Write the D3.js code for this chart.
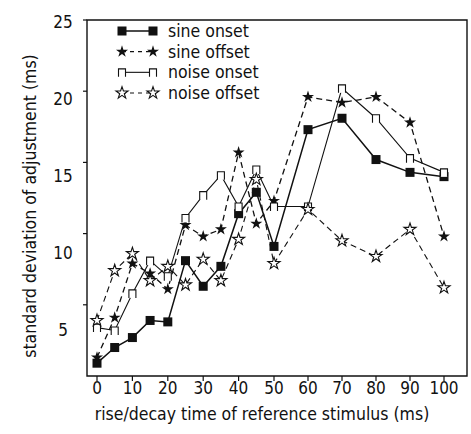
<!DOCTYPE html>
<html>
<head>
<meta charset="utf-8">
<script src="https://cdn.jsdelivr.net/npm/d3@7"></script>
<style>
  body { margin: 0; background: #fff; }
  svg { display: block; font-family: "DejaVu Sans Condensed", "Liberation Sans Narrow", sans-serif; }
</style>
</head>
<body>
<script>
// rise/decay time of reference stimulus (ms)
const riseTimes = [0, 5, 10, 15, 20, 25, 30, 35, 40, 45, 50, 60, 70, 80, 90, 100];
const sineOnset   = [0.9, 2.0, 2.7, 3.9, 3.8, 8.1, 6.3, 7.7, 11.4, 12.9, 9.1, 17.3, 18.1, 15.2, 14.3, 14.0];
const sineOffset  = [1.3, 4.1, 7.9, 7.2, 6.1, 10.6, 9.8, 10.3, 15.7, 10.7, 12.3, 19.6, 19.2, 19.6, 17.8, 9.8];
const noiseOnset  = [3.4, 3.2, 5.8, 8.1, 7.0, 11.1, 12.7, 14.1, 11.9, 14.5, 11.9, 11.9, 20.2, 18.1, 15.3, 14.3];
const noiseOffset = [3.9, 7.4, 8.6, 6.7, 7.7, 6.4, 8.2, 6.7, 9.6, 13.8, 7.9, 11.7, 9.5, 8.4, 10.3, 6.2];
const xTicks = [0, 10, 20, 30, 40, 50, 60, 70, 80, 90, 100];
const yTicks = [5, 10, 15, 20, 25];
const seriesNames = ['sine onset', 'sine offset', 'noise onset', 'noise offset'];

const W = 471, H = 434;
const svg = d3.select('body').append('svg').attr('width', W).attr('height', H);

const x = d3.scaleLinear().domain([0, 50, 100]).range([97, 274, 444]);
const y = d3.scaleLinear().domain([0, 25]).range([376, 20]);
// printed labels sit a little below their tick marks in the original
const yLab = d3.scaleLinear().domain([5, 25]).range([330, 22]);

const plotL = 87, plotR = 467, plotT = 20, plotB = 376;

// frame
svg.append('path')
   .attr('d', `M${plotL},${plotT}H${plotR}V${plotB}H${plotL}Z`)
   .attr('fill', 'none').attr('stroke', '#111').attr('stroke-width', 1.4);

// y ticks + labels
svg.selectAll('.ytick').data(yTicks).enter().append('line')
   .attr('x1', plotL - 4).attr('x2', plotL)
   .attr('y1', d => y(d)).attr('y2', d => y(d))
   .attr('stroke', '#111').attr('stroke-width', 1.2);
svg.selectAll('.ylab').data(yTicks).enter().append('text')
   .attr('x', 63).attr('y', d => yLab(d)).attr('dy', '0.35em')
   .attr('text-anchor', 'middle').attr('font-size', 17).attr('fill', '#111')
   .text(d => d);

// x ticks + labels
svg.selectAll('.xtick').data(xTicks).enter().append('line')
   .attr('x1', d => x(d)).attr('x2', d => x(d))
   .attr('y1', plotB).attr('y2', plotB + 5)
   .attr('stroke', '#111').attr('stroke-width', 1.2);
svg.selectAll('.xlab').data(xTicks).enter().append('text')
   .attr('x', d => x(d)).attr('y', 388).attr('dy', '0.35em')
   .attr('text-anchor', 'middle').attr('font-size', 17).attr('fill', '#111')
   .text(d => d);

// axis titles
svg.append('text')
   .attr('x', 262).attr('y', 414).attr('dy', '0.35em')
   .attr('text-anchor', 'middle').attr('font-size', 17.5).attr('fill', '#111')
   .text('rise/decay time of reference stimulus (ms)');
svg.append('text')
   .attr('transform', 'translate(30,206) rotate(-90)').attr('dy', '0.35em')
   .attr('text-anchor', 'middle').attr('font-size', 17.5).attr('fill', '#111')
   .text('standard deviation of adjustment (ms)');

// markers
const star = d3.symbol().type(d3.symbolStar).size(45);
function drawMarker(g, kind) {
  if (kind === 0) {
    g.append('rect').attr('x', -4.5).attr('y', -4.5).attr('width', 9).attr('height', 9).attr('fill', '#111');
  } else if (kind === 1) {
    g.append('path').attr('d', star()).attr('fill', '#111');
  } else if (kind === 2) {
    g.append('path').attr('d', 'M-3.5,4.5V-3.5H3.5V4.5').attr('fill', '#fff')
     .attr('stroke', '#111').attr('stroke-width', 1.1);
  } else {
    g.append('path').attr('d', star()).attr('fill', '#fff')
     .attr('stroke', '#111').attr('stroke-width', 1.1);
  }
}

const series = [sineOnset, sineOffset, noiseOnset, noiseOffset];
const dashes = [null, '6,4', null, '6,4'];
const widths = [1.5, 1.3, 1.1, 1.1];
const line = d3.line().x(d => x(d[0])).y(d => y(d[1]));

series.forEach((vals, k) => {
  const pts = riseTimes.map((t, i) => [t, vals[i]]);
  svg.append('path').datum(pts)
     .attr('d', line).attr('fill', 'none').attr('stroke', '#111')
     .attr('stroke-width', widths[k]).attr('stroke-dasharray', dashes[k]);
});
series.forEach((vals, k) => {
  riseTimes.forEach((t, i) => {
    const g = svg.append('g').attr('transform', `translate(${x(t)},${y(vals[i])})`);
    drawMarker(g, k);
  });
});

// legend
const legY = d3.scalePoint().domain(seriesNames).range([31, 93]);
seriesNames.forEach((name, k) => {
  const yy = legY(name);
  svg.append('line').attr('x1', 122).attr('x2', 153).attr('y1', yy).attr('y2', yy)
     .attr('stroke', '#111').attr('stroke-width', widths[k]).attr('stroke-dasharray', dashes[k] ? '4,4' : null);
  [122, 153].forEach(px => drawMarker(svg.append('g').attr('transform', `translate(${px},${yy})`), k));
  svg.append('text').attr('x', 168).attr('y', yy).attr('dy', '0.35em')
     .attr('font-size', 17.5).attr('fill', '#111').text(name);
});
</script>
</body>
</html>
